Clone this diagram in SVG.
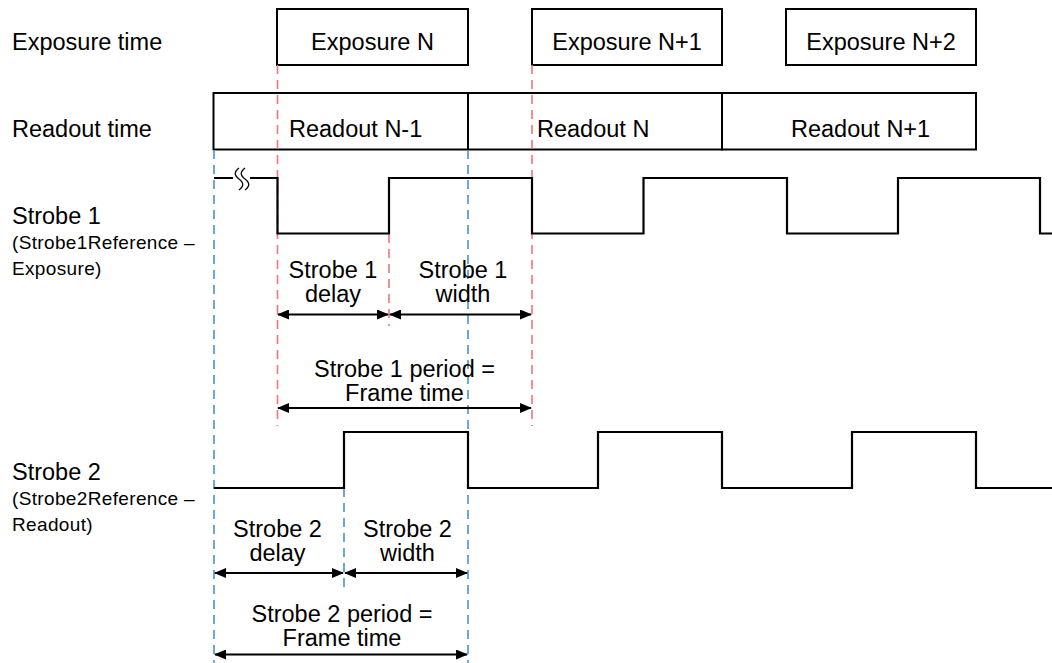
<svg xmlns="http://www.w3.org/2000/svg" width="1052" height="663" viewBox="0 0 1052 663">
<style>
text{font-family:"Liberation Sans",Arial,sans-serif;fill:#000}
.t{font-size:23.5px}
.s{font-size:19px;letter-spacing:0.35px}
.c{text-anchor:middle}
.box{fill:#fff;stroke:#000;stroke-width:2}
.sig{fill:none;stroke:#000;stroke-width:2.2}
.red{stroke:#F2737B;stroke-width:1.6;stroke-dasharray:9,6;fill:none}
.blue{stroke:#5C9FD6;stroke-width:1.8;stroke-dasharray:9,6;fill:none}
.arr{stroke:#000;stroke-width:2;fill:none;marker-start:url(#ah);marker-end:url(#ah)}
</style>
<defs>
<marker id="ah" viewBox="0 0 12 10" refX="11" refY="5" markerWidth="12" markerHeight="10" markerUnits="userSpaceOnUse" orient="auto-start-reverse">
<path d="M0,0 L12,5 L0,10 z" fill="#000"/>
</marker>
</defs>
<rect width="1052" height="663" fill="#fff"/>
<g id="labels">
<text class="t" x="12" y="50">Exposure time</text>
<text class="t" x="12" y="137">Readout time</text>
<text class="t" x="12" y="224">Strobe 1</text>
<text class="s" x="12" y="249">(Strobe1Reference –</text>
<text class="s" x="12" y="275">Exposure)</text>
<text class="t" x="12" y="480">Strobe 2</text>
<text class="s" x="12" y="505">(Strobe2Reference –</text>
<text class="s" x="12" y="531">Readout)</text>
</g>
<g id="exposure-n"><rect class="box" x="277" y="9" width="191" height="56"/><text class="t c" x="372.5" y="50">Exposure N</text></g>
<g id="exposure-n1"><rect class="box" x="532" y="9" width="190" height="56"/><text class="t c" x="627" y="50">Exposure N+1</text></g>
<g id="exposure-n2"><rect class="box" x="786" y="9" width="190" height="56"/><text class="t c" x="881" y="50">Exposure N+2</text></g>
<g id="readout-n-1"><rect class="box" x="213.5" y="93" width="254.5" height="56.5"/><text class="t" x="289" y="137">Readout N-1</text></g>
<g id="readout-n"><rect class="box" x="468" y="93" width="254" height="56.5"/><text class="t" x="537" y="137">Readout N</text></g>
<g id="readout-n1"><rect class="box" x="722" y="93" width="254" height="56.5"/><text class="t" x="791" y="137">Readout N+1</text></g>
<g id="guides">
<line class="red" x1="277.5" y1="65" x2="277.5" y2="426"/>
<line class="red" x1="532" y1="65" x2="532" y2="426"/>
<line class="red" x1="389" y1="234" x2="389" y2="326"/>
<line class="blue" x1="214" y1="150" x2="214" y2="663"/>
<line class="blue" x1="468" y1="150" x2="468" y2="663"/>
<line class="blue" x1="344" y1="488" x2="344" y2="590"/>
</g>
<g id="strobe1">
<path class="sig" d="M214,178 H233 M250,178 H277.5 V233.5 H389 V178 H532 V233.5 H643.5 V178 H787 V233.5 H898 V178 H1040 V233.5 H1052"/>
<path d="M239,168 c-5,4 -5,7 0,11 c5,4 5,7 0,11 M245,168 c-5,4 -5,7 0,11 c5,4 5,7 0,11" fill="none" stroke="#000" stroke-width="1.3"/>
</g>
<g id="strobe2">
<path class="sig" d="M214,488 H344 V432 H468 V488 H598 V432 H722 V488 H852 V432 H976 V488 H1052"/>
</g>
<g id="connectors">
<line class="arr" x1="278" y1="314.5" x2="388" y2="314.5"/>
<line class="arr" x1="390" y1="314.5" x2="531" y2="314.5"/>
<line class="arr" x1="278" y1="408" x2="531" y2="408"/>
<line class="arr" x1="215" y1="573" x2="343" y2="573"/>
<line class="arr" x1="345" y1="573" x2="467" y2="573"/>
<line class="arr" x1="215" y1="654.5" x2="467" y2="654.5"/>
</g>
<g id="annotations">
<text class="t c" x="333" y="278">Strobe 1</text>
<text class="t c" x="333" y="302">delay</text>
<text class="t c" x="463" y="278">Strobe 1</text>
<text class="t c" x="463" y="302">width</text>
<text class="t c" x="404.5" y="377">Strobe 1 period =</text>
<text class="t c" x="404.5" y="401">Frame time</text>
<text class="t c" x="277.5" y="537">Strobe 2</text>
<text class="t c" x="277.5" y="561">delay</text>
<text class="t c" x="407.5" y="537">Strobe 2</text>
<text class="t c" x="407.5" y="561">width</text>
<text class="t c" x="342" y="622">Strobe 2 period =</text>
<text class="t c" x="342" y="646">Frame time</text>
</g>
</svg>
